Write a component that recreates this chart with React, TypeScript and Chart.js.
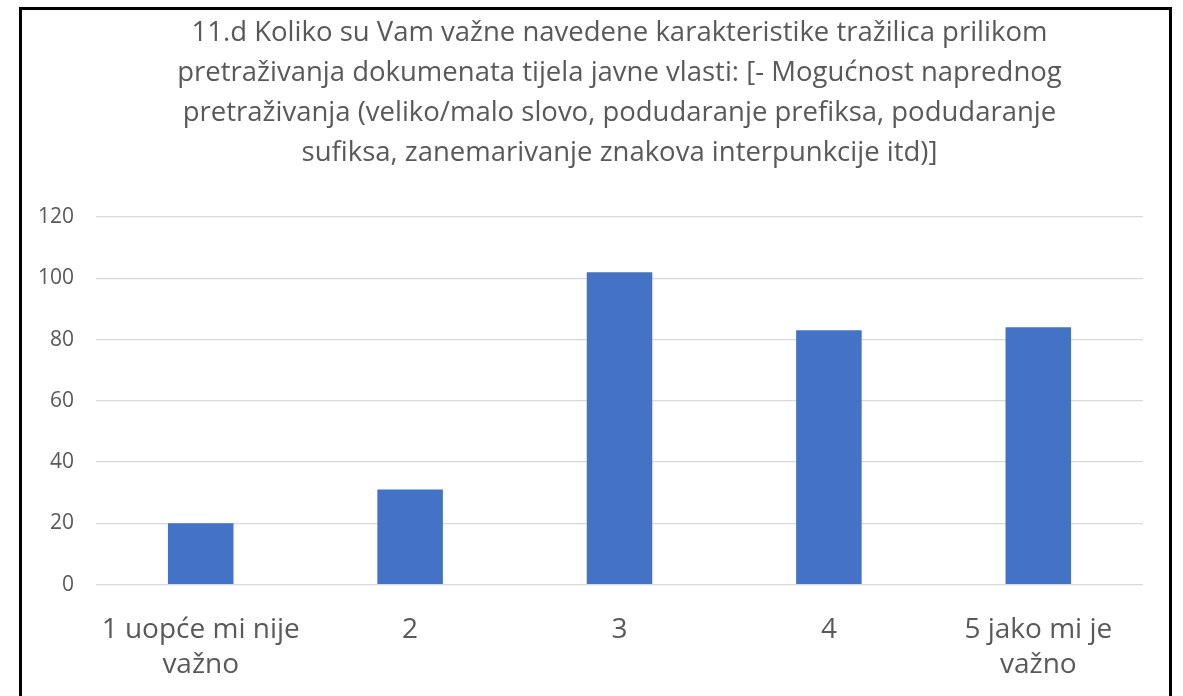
import React, { useEffect, useRef } from "react";
import { Chart, registerables } from "chart.js";

Chart.register(...registerables);

const titleLines = [
  "11.d Koliko su Vam važne navedene karakteristike tražilica prilikom",
  "pretraživanja dokumenata tijela javne vlasti: [- Mogućnost naprednog",
  "pretraživanja (veliko/malo slovo, podudaranje prefiksa, podudaranje",
  "sufiksa, zanemarivanje znakova interpunkcije itd)]",
];

const categories: (string | string[])[] = [
  ["1 uopće mi nije", "važno"],
  "2",
  "3",
  "4",
  ["5 jako mi je", "važno"],
];

const values = [20, 31, 102, 83, 84];

const yMin = 0;
const yMax = 120;
const yStep = 20;

const FONT = "'Open Sans', 'Noto Sans', sans-serif";
const TEXT = "#595959";

const titleShift = {
  id: "titleShift",
  afterLayout(chart: any) {
    const tb = chart.titleBlock;
    if (tb) {
      tb.left += 40;
      tb.right += 40;
    }
  },
};

export default function App() {
  const ref = useRef<HTMLCanvasElement | null>(null);

  useEffect(() => {
    if (!ref.current) return;
    const chart = new Chart(ref.current, {
      type: "bar",
      data: {
        labels: categories,
        datasets: [
          {
            data: values,
            backgroundColor: "#4472C4",
            borderWidth: 0,
            barPercentage: 0.313,
            categoryPercentage: 1,
          },
        ],
      },
      plugins: [titleShift],
      options: {
        animation: false,
        responsive: false,
        maintainAspectRatio: false,
        layout: { padding: { left: -6, right: 26, top: 0, bottom: 0 } },
        plugins: {
          legend: { display: false },
          tooltip: { enabled: false },
          title: {
            display: true,
            text: titleLines,
            color: TEXT,
            font: { family: FONT, size: 27.5, weight: "normal", lineHeight: 1.455 },
            padding: { top: 3, bottom: 44 },
          },
        },
        scales: {
          x: {
            grid: { display: false, drawTicks: false },
            border: { display: false },
            ticks: {
              color: TEXT,
              font: { family: FONT, size: 28, lineHeight: 1.24 },
              padding: 28,
              maxRotation: 0,
              autoSkip: false,
            },
          },
          y: {
            min: yMin,
            max: yMax,
            grid: { color: "#d9d9d9", lineWidth: 1.3, drawTicks: false },
            border: { display: false },
            ticks: {
              stepSize: yStep,
              color: TEXT,
              font: { family: FONT, size: 21 },
              padding: 22,
            },
          },
        },
      },
    });
    return () => chart.destroy();
  }, []);

  return (
    <div
      style={{
        position: "absolute",
        left: 0,
        top: 0,
        width: 1183,
        height: 696,
        background: "#fff",
        overflow: "hidden",
      }}
    >
      <div
        style={{
          position: "absolute",
          left: 19,
          top: 7,
          width: 1147,
          height: 720,
          border: "3px solid #000",
          background: "#fff",
        }}
      >
        <canvas ref={ref} width={1147} height={700} style={{ display: "block" }} />
      </div>
    </div>
  );
}
